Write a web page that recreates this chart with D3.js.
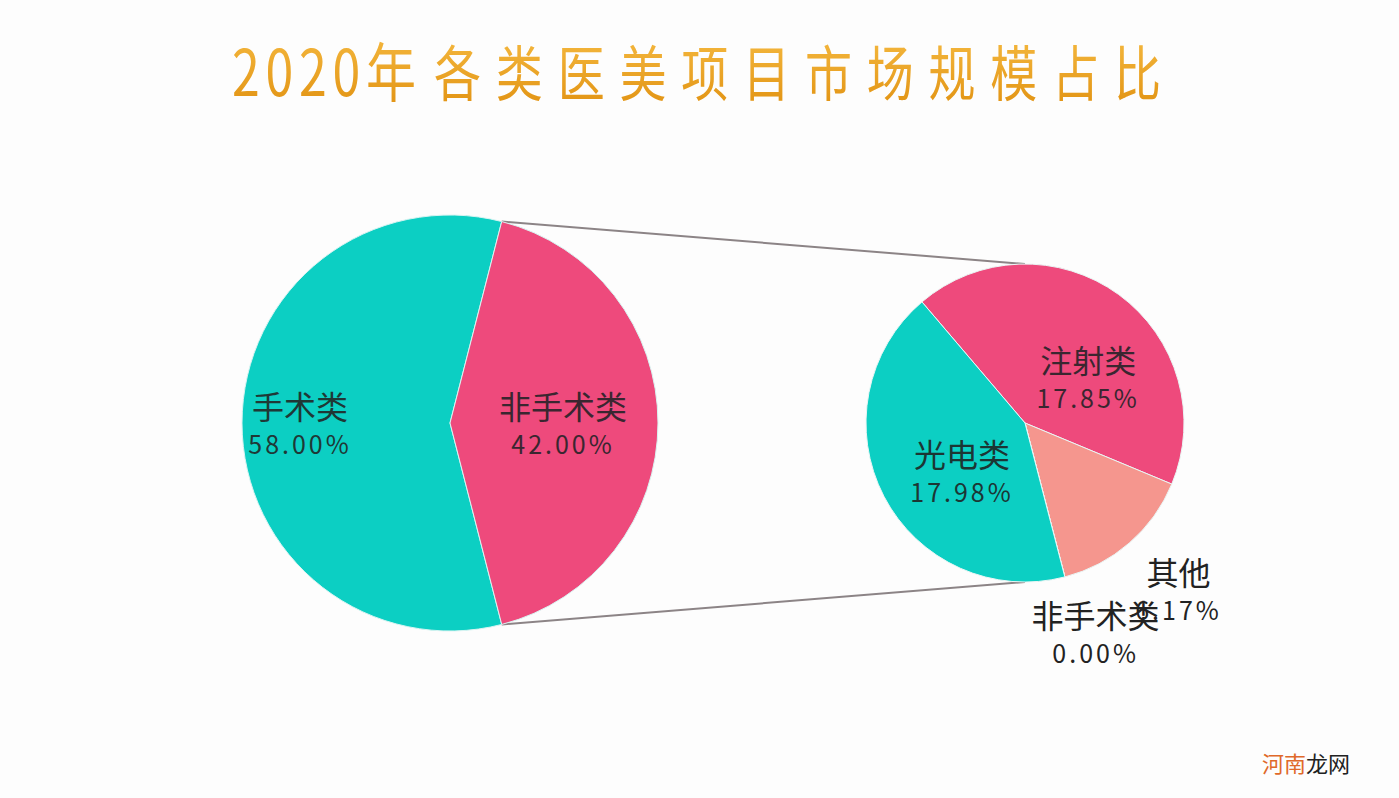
<!DOCTYPE html>
<html lang="zh">
<head>
	<meta charset="UTF-8"/>
	<title>2020年 各类医美项目市场规模占比</title>
	<script src="https://d3js.org/d3.v7.min.js"></script>
	<style>
		body {
			margin: 0;
			background: #fdfdfd;
		}
		text {
			font-family: "Noto Sans CJK SC", "Noto Sans", sans-serif;
		}
	</style>
</head>
<body>
	<script>
		// data
		var titleYear = "2020年";
		var titleRest = "各类医美项目市场规模占比";
		var leftCategories = ["手术类", "非手术类"];
		var leftValues = [58.00, 42.00];
		var rightCategories = ["注射类", "其他", "非手术类", "光电类"];
		var rightValues = [17.85, 6.17, 0.00, 17.98];

		var w = 1399;
		var h = 798;

		var colorLeft = d3.scaleOrdinal().domain(leftCategories).range(["#0ccfc3", "#ee4a7c"]);
		var colorRight = d3.scaleOrdinal().domain(rightCategories).range(["#ee4a7c", "#f5968e", "#f5968e", "#0ccfc3"]);
		var fmt = d3.format(".2f");

		var svg = d3.select("body").append("svg").attr("width", w).attr("height", h);

		// title with orange gradient
		var grad = svg.append("defs").append("linearGradient")
			.attr("id", "titleGrad")
			.attr("x1", 0).attr("y1", 0).attr("x2", 0).attr("y2", 1);
		grad.append("stop").attr("offset", "0%").attr("stop-color", "#f7bd45");
		grad.append("stop").attr("offset", "100%").attr("stop-color", "#e0900f");

		var titleParts = [
			{text: titleYear, x: 232, len: 184, size: 50},
			{text: titleRest, x: 434, len: 727, size: 47}
		];
		svg.selectAll("g.title").data(titleParts).enter().append("g")
			.attr("class", "title")
			.attr("transform", function(d){ return "translate(" + d.x + ",96) scale(1,1.28)"; })
			.append("text")
			.attr("textLength", function(d){ return d.len; })
			.attr("lengthAdjust", "spacing")
			.attr("font-size", function(d){ return d.size; })
			.attr("fill", "url(#titleGrad)")
			.text(function(d){ return d.text; });

		// left pie
		var cx1 = 450, cy1 = 423, r1 = 208;
		var leftTotal = d3.sum(leftValues);
		var leftStart = Math.PI / 2 + (leftValues[1] / leftTotal) * Math.PI;
		var pieLeft = d3.pie().sort(null)
			.startAngle(leftStart)
			.endAngle(leftStart + 2 * Math.PI);
		var leftArcs = pieLeft(leftValues);
		var arcLeft = d3.arc().innerRadius(0).outerRadius(r1);

		// right pie
		var cx2 = 1025, cy2 = 423, r2 = 159;
		var rightStart = -40.4 * Math.PI / 180;
		var pieRight = d3.pie().sort(null)
			.startAngle(rightStart)
			.endAngle(rightStart + 2 * Math.PI);
		var rightArcs = pieRight(rightValues);
		var arcRight = d3.arc().innerRadius(0).outerRadius(r2);

		// connector lines from the split slice to the second pie
		var split = leftArcs[1];
		var lines = [
			[split.startAngle, cy2 - r2],
			[split.endAngle, cy2 + r2]
		];
		svg.selectAll("line.connector").data(lines).enter().append("line")
			.attr("class", "connector")
			.attr("x1", function(d){ return cx1 + r1 * Math.sin(d[0]); })
			.attr("y1", function(d){ return cy1 - r1 * Math.cos(d[0]); })
			.attr("x2", cx2)
			.attr("y2", function(d){ return d[1]; })
			.attr("stroke", "#8c8486")
			.attr("stroke-width", 2);

		var gLeft = svg.append("g").attr("transform", "translate(" + cx1 + "," + cy1 + ")");
		gLeft.selectAll("path").data(leftArcs).enter().append("path")
			.attr("d", arcLeft)
			.attr("fill", function(d, i){ return colorLeft(leftCategories[i]); })
			.attr("stroke", "#d8f4f2")
			.attr("stroke-width", 1);

		var gRight = svg.append("g").attr("transform", "translate(" + cx2 + "," + cy2 + ")");
		gRight.selectAll("path").data(rightArcs).enter().append("path")
			.attr("d", arcRight)
			.attr("fill", function(d, i){ return colorRight(rightCategories[i]); })
			.attr("stroke", "#e9f6f5")
			.attr("stroke-width", 1);

		// labels: slice centroid at radius labelR[i], then a small nudge
		function addLabels(g, arcs, cats, labelR, nudges, fills){
			var groups = g.selectAll("g.label").data(arcs).enter().append("g")
				.attr("class", "label")
				.attr("transform", function(d, i){
					var c = d3.arc().innerRadius(labelR[i]).outerRadius(labelR[i]).centroid(d);
					return "translate(" + (c[0] + nudges[i][0]) + "," + (c[1] + nudges[i][1]) + ")";
				});
			groups.append("text")
				.attr("text-anchor", "middle")
				.attr("y", -4)
				.attr("font-size", 32)
				.attr("fill", function(d, i){ return fills[i]; })
				.text(function(d, i){ return cats[i]; });
			groups.append("text")
				.attr("text-anchor", "middle")
				.attr("y", 31)
				.attr("font-size", 25)
				.attr("letter-spacing", 3)
				.attr("fill", function(d, i){ return fills[i]; })
				.text(function(d){ return fmt(d.value) + "%"; });
		}

		addLabels(gLeft, leftArcs, leftCategories, [130, 130], [[-20, 0], [-17, 0]], ["#1f3836", "#3a2630"]);
		addLabels(gRight, rightArcs, rightCategories, [80, 190, 190, 80], [[16, 19], [29, 23], [23, 25], [8, 11]], ["#3a2630", "#222", "#222", "#1c3634"]);

		// watermark
		var wm = svg.append("text")
			.attr("x", 1262)
			.attr("y", 772)
			.attr("font-size", 22);
		wm.append("tspan").attr("fill", "#e0692a").text("河南");
		wm.append("tspan").attr("fill", "#222").text("龙网");
	</script>
</body>
</html>
